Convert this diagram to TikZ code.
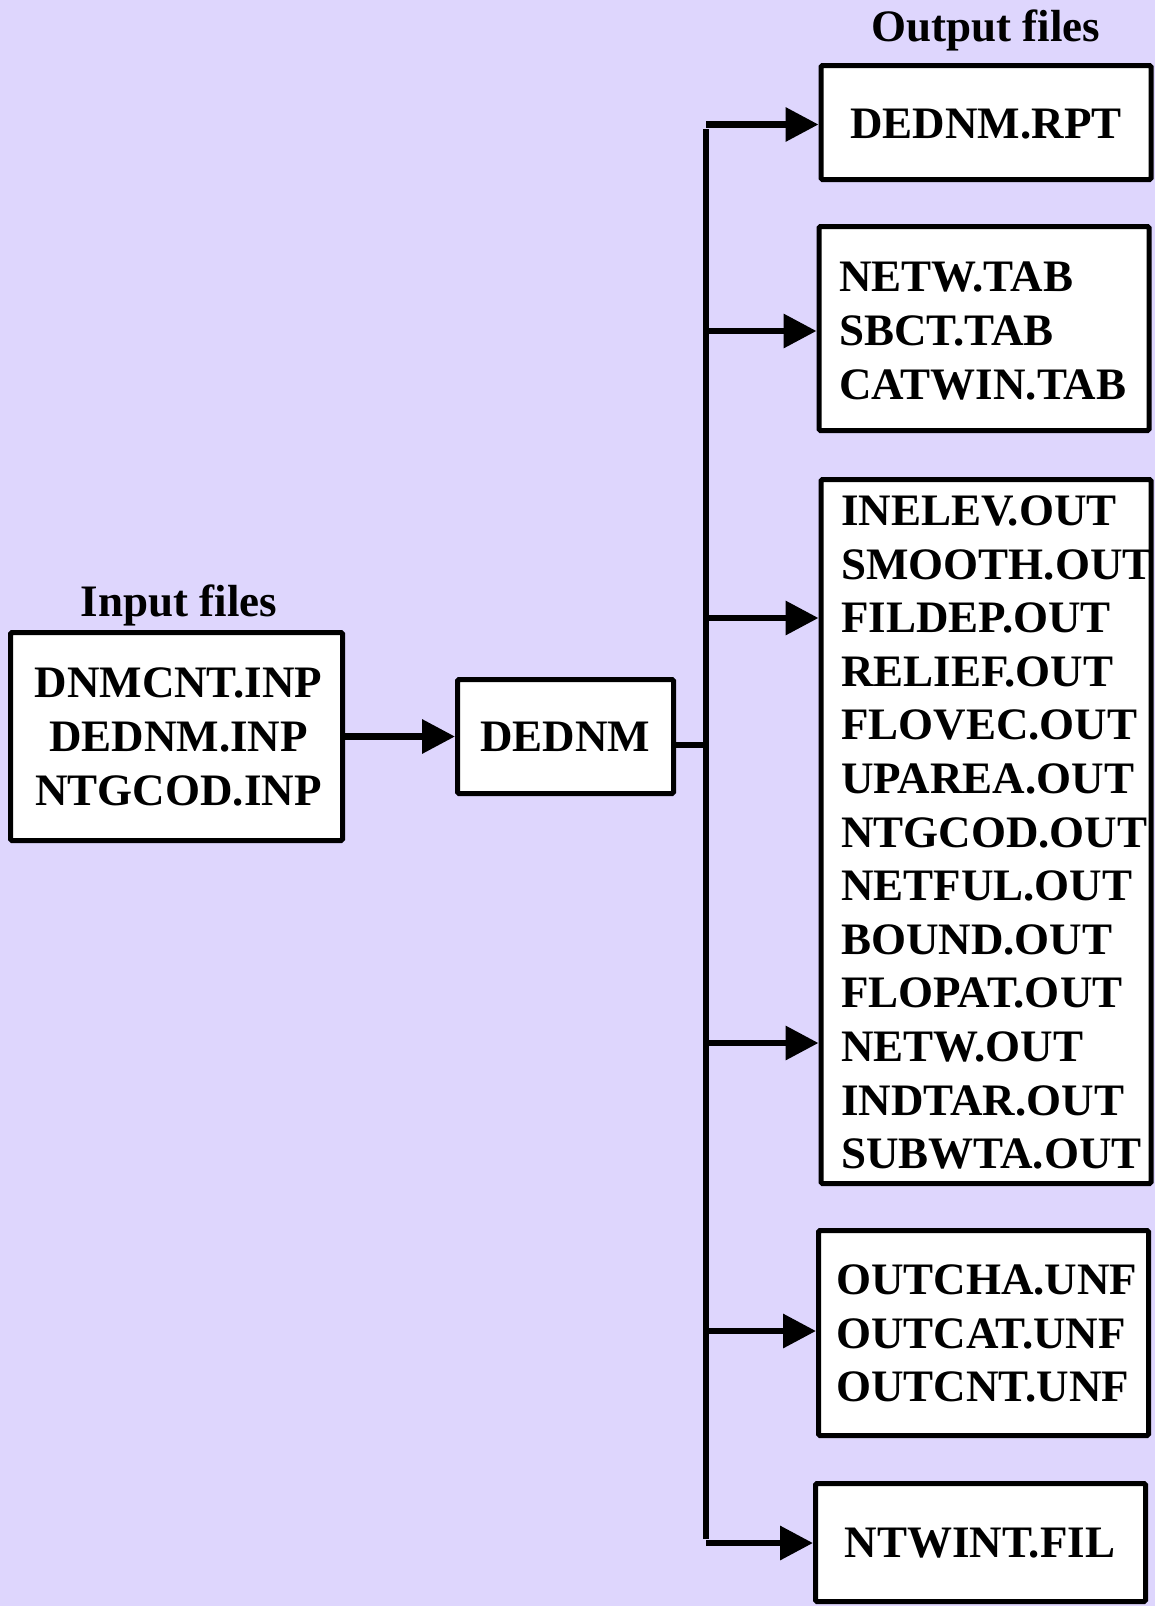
\documentclass[tikz,border=0pt]{standalone}
\usepackage{fontspec}
\setmainfont{Liberation Serif}
\usetikzlibrary{arrows.meta}
\definecolor{bgpanel}{RGB}{222,214,253}
\begin{document}
\begin{tikzpicture}[x=1pt,y=-1pt,
  filebox/.style={draw=black, fill=white, line width=5pt, rectangle, inner sep=0pt,
    rounded corners=1.5pt},
  ftext/.style={inner sep=0pt, font=\fontsize{45}{53.6}\selectfont\bfseries},
  flow/.style={line width=6.5pt, -{Triangle[length=33pt,width=33pt]}},
  bus/.style={line width=5.5pt}]
\useasboundingbox (0,0) rectangle (1155,1606);
\fill[bgpanel] (0,0) rectangle (1155,1606);

% input side
\node[filebox, minimum width=332pt, minimum height=208pt] (inbox) at (176.5,736.5) {};
\node[ftext, align=center] (intext) at (178.5,737) {DNMCNT.INP\\DEDNM.INP\\NTGCOD.INP};
\node[ftext, anchor=base] (intitle) at (179,616) {Input files};

% program
\node[filebox, minimum width=216pt, minimum height=114pt] (dednm) at (565.5,736.5) {};
\node[ftext] (dednmtext) at (565,737) {DEDNM};

% output boxes
\node[ftext, anchor=base] (outtitle) at (986,41) {Output files};

\node[filebox, minimum width=330pt, minimum height=114pt] (rpt) at (986,122.5) {};
\node[ftext] (rpttext) at (986,124) {DEDNM.RPT};

\node[filebox, minimum width=330pt, minimum height=204pt] (tab) at (984,328.5) {};
\node[ftext, align=left, anchor=west] (tabtext) at (839,331) {NETW.TAB\\SBCT.TAB\\CATWIN.TAB};

\node[filebox, minimum width=330pt, minimum height=704pt] (out) at (986,831.5) {};
\node[ftext, align=left, anchor=west] (outtext) at (841,832.5)
  {INELEV.OUT\\SMOOTH.OUT\\FILDEP.OUT\\RELIEF.OUT\\FLOVEC.OUT\\UPAREA.OUT\\NTGCOD.OUT\\NETFUL.OUT\\BOUND.OUT\\FLOPAT.OUT\\NETW.OUT\\INDTAR.OUT\\SUBWTA.OUT};

\node[filebox, minimum width=330pt, minimum height=205pt] (unf) at (983.5,1333) {};
\node[ftext, align=left, anchor=west] (unftext) at (836,1333.5) {OUTCHA.UNF\\OUTCAT.UNF\\OUTCNT.UNF};

\node[filebox, minimum width=330pt, minimum height=118pt] (fil) at (980.5,1542.5) {};
\node[ftext] (filtext) at (980,1543) {NTWINT.FIL};

% distribution bus
\coordinate (bustop) at (706,124.5);
\coordinate (busbot) at (706,1543);
\coordinate (busmid) at (706,745);
\coordinate (btab) at (706,331);
\coordinate (bout1) at (706,618);
\coordinate (bout2) at (706,1043);
\coordinate (bunf) at (706,1331);

\draw[flow] (inbox.east |- dednm) -- (dednm);
\draw[bus] (dednm.east |- busmid) -- (busmid);
\draw[bus, line cap=butt] ([yshift=-4.5pt]bustop) -- ([yshift=4pt]busbot);

\draw[flow] (bustop) -- (bustop -| rpt.west);
\draw[flow] (btab) -- (btab -| tab.west);
\draw[flow] (bout1) -- (bout1 -| out.west);
\draw[flow] (bout2) -- (bout2 -| out.west);
\draw[flow] (bunf) -- (bunf -| unf.west);
\draw[flow] (busbot) -- (busbot -| fil.west);
\end{tikzpicture}
\end{document}
